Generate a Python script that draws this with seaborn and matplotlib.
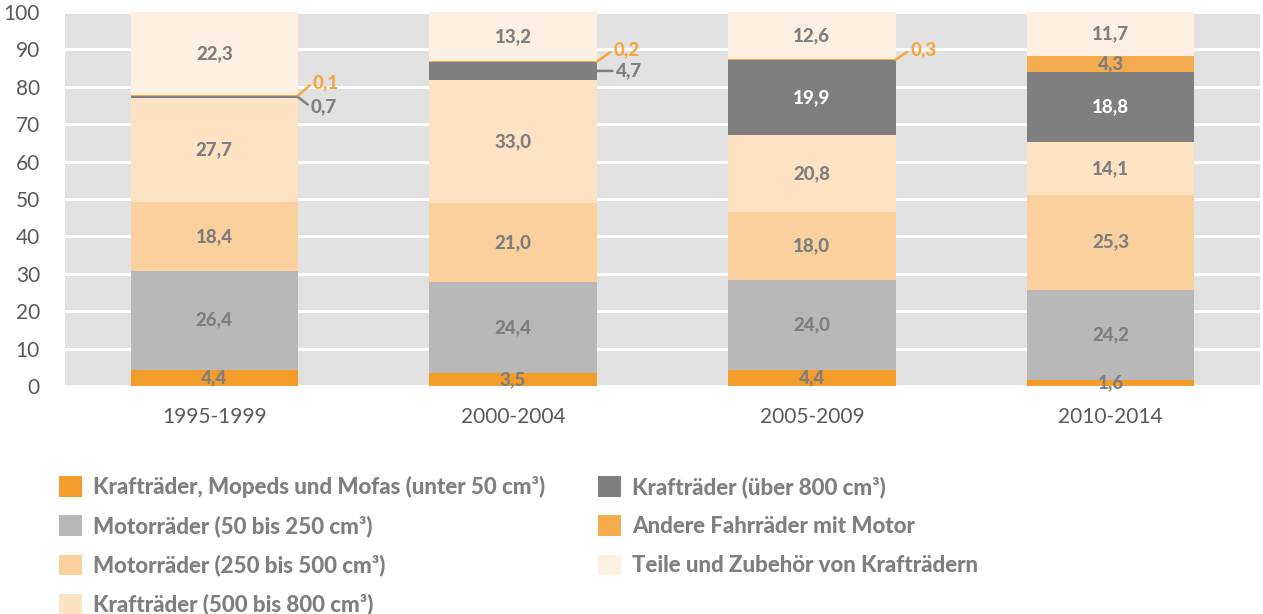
import matplotlib
matplotlib.use("Agg")
import numpy as np
import pandas as pd
import seaborn as sns
import matplotlib.pyplot as plt

periods = ["1995-1999", "2000-2004", "2005-2009", "2010-2014"]

series_names = [
    "Krafträder, Mopeds und Mofas (unter 50 cm³)",
    "Motorräder (50 bis 250 cm³)",
    "Motorräder (250 bis 500 cm³)",
    "Krafträder (500 bis 800 cm³)",
    "Krafträder (über 800 cm³)",
    "Andere Fahrräder mit Motor",
    "Teile und Zubehör von Krafträdern",
]

unter_50 = [4.4, 3.5, 4.4, 1.6]
mot_50_250 = [26.4, 24.4, 24.0, 24.2]
mot_250_500 = [18.4, 21.0, 18.0, 25.3]
kr_500_800 = [27.7, 33.0, 20.8, 14.1]
ueber_800 = [0.7, 4.7, 19.9, 18.8]
andere = [0.1, 0.2, 0.3, 4.3]
teile = [22.3, 13.2, 12.6, 11.7]

colors = ["#F39C2A", "#B9B8B9", "#FAD09D", "#FDE2C4", "#7F7F80", "#F5AC4E", "#FDF0E2"]

# (series index, period index, dx px, dy px) for labels pulled out with a leader line
leaders = [(5, 0, 15, 13), (4, 0, 13, -10), (5, 1, 17, 12), (4, 1, 19, 0), (5, 2, 15, 10)]

GRAY = "#7F7F7F"
TICK = "#595959"
FONT = ["Lato", "DejaVu Sans"]

sns.set_theme(style="white")
plt.rcParams["font.family"] = FONT

fig = plt.figure(figsize=(12.63, 6.14), dpi=100)
ax = fig.add_axes([65 / 1263, 1 - 386 / 614, 1195 / 1263, 374 / 614])
ax.set_facecolor("#E1E1E1")

values = [unter_50, mot_50_250, mot_250_500, kr_500_800, ueber_800, andere, teile]
width = 0.56
bottom = np.zeros(len(periods))
for name, vals, c in zip(series_names, values, colors):
    df = pd.DataFrame({"period": periods, "value": vals})
    sns.barplot(data=df, x="period", y="value", order=periods, color=c, saturation=1,
                width=width, bottom=bottom.copy(), errorbar=None, label=name,
                linewidth=0, ax=ax, zorder=3)
    bottom += np.array(vals)

# data labels
leader_keys = {(s, p): (dx, dy) for s, p, dx, dy in leaders}
bottom = np.zeros(len(periods))
for s, vals in enumerate(values):
    for p, v in enumerate(vals):
        mid = bottom[p] + v / 2
        txt = f"{v:.1f}".replace(".", ",")
        if (s, p) in leader_keys:
            dx, dy = leader_keys[(s, p)]
            lc = "#F5A742" if s == 5 else GRAY
            ax.annotate(txt, xy=(p + width / 2, mid), xytext=(dx * 0.72, dy * 0.72),
                        textcoords="offset points", ha="left", va="center",
                        fontsize=13.5, fontweight="black", color=lc, zorder=5,
                        arrowprops=dict(arrowstyle="-", color=lc, lw=1.8,
                                        shrinkA=0, shrinkB=0, relpos=(0, 0.5)))
        else:
            tc = "white" if s == 4 else GRAY
            ax.text(p, mid, txt, ha="center", va="center", fontsize=13.5,
                    fontweight="black", color=tc, zorder=5)
    bottom += np.array(vals)

ax.set_xlim(-0.5, 3.5)
ax.set_ylim(0, 100)
ax.set_yticks(range(0, 101, 10))
ax.yaxis.grid(True, color="white", lw=2.2, zorder=1)
ax.set_axisbelow(True)
ax.set_xlabel("")
ax.set_ylabel("")
for sp in ax.spines.values():
    sp.set_visible(False)
ax.tick_params(axis="y", length=0, labelsize=15, labelcolor=TICK, pad=18)
ax.tick_params(axis="x", length=0, labelsize=15, labelcolor=TICK, pad=15)
ax.set_xticks([0.5, 1.5, 2.5], minor=True)
ax.tick_params(axis="x", which="minor", direction="in", length=8, width=2.5,
               color="white")

leg = fig.legend(*ax.get_legend_handles_labels(), ncol=2, loc="upper left",
                 bbox_to_anchor=(39 / 1263, 1 - 456 / 614), frameon=False,
                 prop={"family": FONT, "weight": "black", "size": 16},
                 handlelength=1.04, handleheight=1.04, handletextpad=0.48,
                 labelspacing=0.78, columnspacing=2.4, labelcolor=GRAY)
if ax.legend_:
    ax.legend_.remove()

fig.savefig("out.png", dpi=100)
